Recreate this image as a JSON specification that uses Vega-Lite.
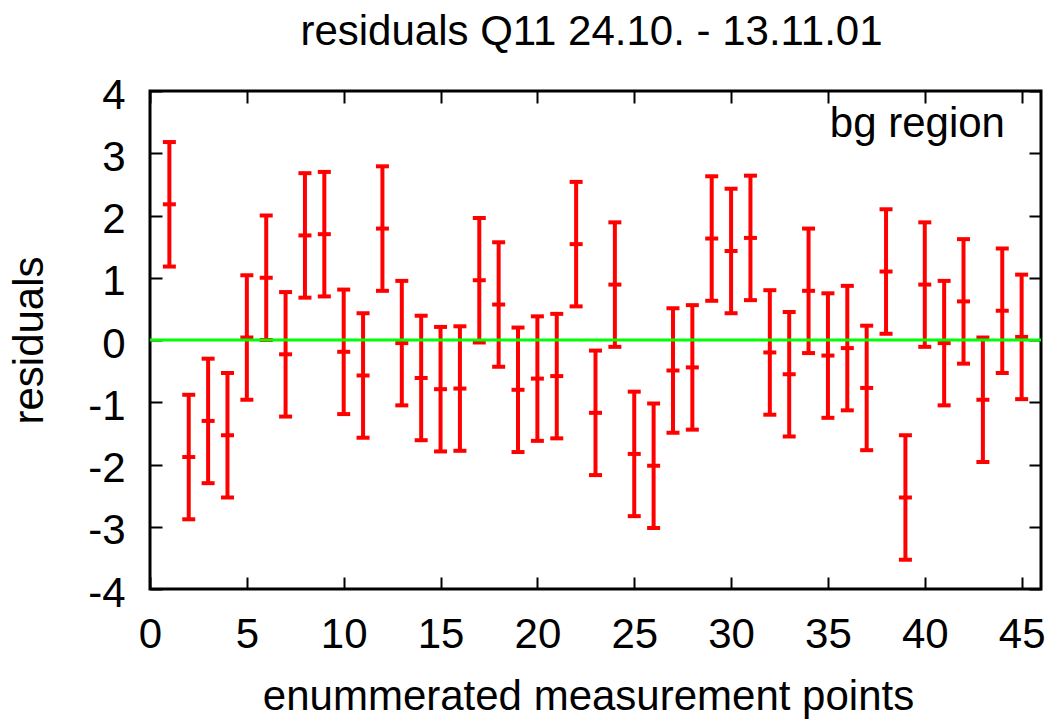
{
  "$schema": "https://vega.github.io/schema/vega-lite/v6.json",
  "width": 891,
  "height": 498,
  "autosize": {"type": "none"},
  "padding": {"left": 150, "top": 91, "right": 9, "bottom": 131},
  "background": "white",
  "title": {"text": "residuals Q11 24.10. - 13.11.01", "font": "Liberation Sans", "fontSize": 42, "fontWeight": "normal", "color": "black", "baseline": "alphabetic", "anchor": "middle", "frame": "group", "offset": 24, "dx": -4, "dy": 37},
  "data": {"values": [
    {"n": 1, "r": 2.18, "lo": 1.18, "hi": 3.18},
    {"n": 2, "r": -1.88, "lo": -2.88, "hi": -0.88},
    {"n": 3, "r": -1.30, "lo": -2.30, "hi": -0.30},
    {"n": 4, "r": -1.53, "lo": -2.53, "hi": -0.53},
    {"n": 5, "r": 0.04, "lo": -0.96, "hi": 1.04},
    {"n": 6, "r": 1.00, "lo": 0.00, "hi": 2.00},
    {"n": 7, "r": -0.23, "lo": -1.23, "hi": 0.77},
    {"n": 8, "r": 1.68, "lo": 0.68, "hi": 2.68},
    {"n": 9, "r": 1.70, "lo": 0.70, "hi": 2.70},
    {"n": 10, "r": -0.19, "lo": -1.19, "hi": 0.81},
    {"n": 11, "r": -0.57, "lo": -1.57, "hi": 0.43},
    {"n": 12, "r": 1.79, "lo": 0.79, "hi": 2.79},
    {"n": 13, "r": -0.05, "lo": -1.05, "hi": 0.95},
    {"n": 14, "r": -0.61, "lo": -1.61, "hi": 0.39},
    {"n": 15, "r": -0.79, "lo": -1.79, "hi": 0.21},
    {"n": 16, "r": -0.78, "lo": -1.78, "hi": 0.22},
    {"n": 17, "r": 0.96, "lo": -0.04, "hi": 1.96},
    {"n": 18, "r": 0.57, "lo": -0.43, "hi": 1.57},
    {"n": 19, "r": -0.80, "lo": -1.80, "hi": 0.20},
    {"n": 20, "r": -0.62, "lo": -1.62, "hi": 0.38},
    {"n": 21, "r": -0.58, "lo": -1.58, "hi": 0.42},
    {"n": 22, "r": 1.54, "lo": 0.54, "hi": 2.54},
    {"n": 23, "r": -1.17, "lo": -2.17, "hi": -0.17},
    {"n": 24, "r": 0.89, "lo": -0.11, "hi": 1.89},
    {"n": 25, "r": -1.83, "lo": -2.83, "hi": -0.83},
    {"n": 26, "r": -2.02, "lo": -3.02, "hi": -1.02},
    {"n": 27, "r": -0.49, "lo": -1.49, "hi": 0.51},
    {"n": 28, "r": -0.44, "lo": -1.44, "hi": 0.56},
    {"n": 29, "r": 1.63, "lo": 0.63, "hi": 2.63},
    {"n": 30, "r": 1.43, "lo": 0.43, "hi": 2.43},
    {"n": 31, "r": 1.64, "lo": 0.64, "hi": 2.64},
    {"n": 32, "r": -0.20, "lo": -1.20, "hi": 0.80},
    {"n": 33, "r": -0.55, "lo": -1.55, "hi": 0.45},
    {"n": 34, "r": 0.79, "lo": -0.21, "hi": 1.79},
    {"n": 35, "r": -0.25, "lo": -1.25, "hi": 0.75},
    {"n": 36, "r": -0.13, "lo": -1.13, "hi": 0.87},
    {"n": 37, "r": -0.77, "lo": -1.77, "hi": 0.23},
    {"n": 38, "r": 1.10, "lo": 0.10, "hi": 2.10},
    {"n": 39, "r": -2.53, "lo": -3.53, "hi": -1.53},
    {"n": 40, "r": 0.89, "lo": -0.11, "hi": 1.89},
    {"n": 41, "r": -0.05, "lo": -1.05, "hi": 0.95},
    {"n": 42, "r": 0.62, "lo": -0.38, "hi": 1.62},
    {"n": 43, "r": -0.96, "lo": -1.96, "hi": 0.04},
    {"n": 44, "r": 0.47, "lo": -0.53, "hi": 1.47},
    {"n": 45, "r": 0.05, "lo": -0.95, "hi": 1.05}
  ]},
  "resolve": {"axis": {"x": "independent", "y": "independent"}},
  "layer": [
    {
      "mark": {"type": "rule", "color": "#ff0000", "strokeWidth": 4},
      "encoding": {
        "x": {"field": "n", "type": "quantitative", "scale": {"domain": [0, 46], "nice": false, "zero": false},
          "axis": {"orient": "bottom", "values": [0, 5, 10, 15, 20, 25, 30, 35, 40, 45], "title": "enummerated measurement points", "labelExpr": "'' + datum.value", "labelBaseline": "alphabetic", "labelPadding": 70, "titleX": 438, "titleY": 120, "titleBaseline": "alphabetic", "titleAnchor": null, "titleAlign": "center"}},
        "y": {"field": "lo", "type": "quantitative", "scale": {"domain": [-4, 4], "nice": false, "zero": false},
          "axis": {"orient": "left", "values": [-4, -3, -2, -1, 0, 1, 2, 3, 4], "title": "residuals", "labelExpr": "'' + datum.value", "labelAlign": "right", "labelBaseline": "alphabetic", "labelOffset": 17, "labelPadding": 37, "titleAngle": -90, "titleX": -108, "titleY": 249, "titleBaseline": "alphabetic", "titleAlign": "center", "titleAnchor": null}},
        "y2": {"field": "hi"}
      }
    },
    {
      "mark": {"type": "tick", "orient": "horizontal", "color": "#ff0000", "size": 13, "thickness": 4, "opacity": 1},
      "encoding": {
        "x": {"field": "n", "type": "quantitative", "axis": null},
        "y": {"field": "lo", "type": "quantitative", "axis": null}
      }
    },
    {
      "mark": {"type": "tick", "orient": "horizontal", "color": "#ff0000", "size": 13, "thickness": 4, "opacity": 1},
      "encoding": {
        "x": {"field": "n", "type": "quantitative", "axis": null},
        "y": {"field": "r", "type": "quantitative", "axis": null}
      }
    },
    {
      "mark": {"type": "tick", "orient": "horizontal", "color": "#ff0000", "size": 13, "thickness": 4, "opacity": 1},
      "encoding": {
        "x": {"field": "n", "type": "quantitative",
          "axis": {"orient": "top", "values": [0, 5, 10, 15, 20, 25, 30, 35, 40, 45], "labels": false, "title": null}},
        "y": {"field": "hi", "type": "quantitative",
          "axis": {"orient": "right", "values": [-4, -3, -2, -1, 0, 1, 2, 3, 4], "labels": false, "title": null}}
      }
    },
    {
      "data": {"values": [{"label": "zero"}]},
      "mark": {"type": "rule", "color": "#00ff00", "strokeWidth": 3},
      "encoding": {"y": {"datum": 0, "type": "quantitative", "axis": null}}
    },
    {
      "data": {"values": [{"label": "bg region"}]},
      "mark": {"type": "text", "font": "Liberation Sans", "fontSize": 42, "color": "black", "align": "right", "baseline": "alphabetic"},
      "encoding": {
        "text": {"field": "label"},
        "x": {"datum": 44.14, "type": "quantitative", "axis": null},
        "y": {"datum": 3.26, "type": "quantitative", "axis": null}
      }
    }
  ],
  "config": {
    "view": {"stroke": "black", "strokeWidth": 3},
    "axis": {"labelFont": "Liberation Sans", "labelFontSize": 42, "labelColor": "black", "titleFont": "Liberation Sans", "titleFontSize": 42, "titleFontWeight": "normal", "titleColor": "black", "grid": false, "domain": false, "ticks": true, "tickColor": "black", "tickWidth": 2, "tickSize": -12, "labelFlush": false, "labelOverlap": false}
  }
}
